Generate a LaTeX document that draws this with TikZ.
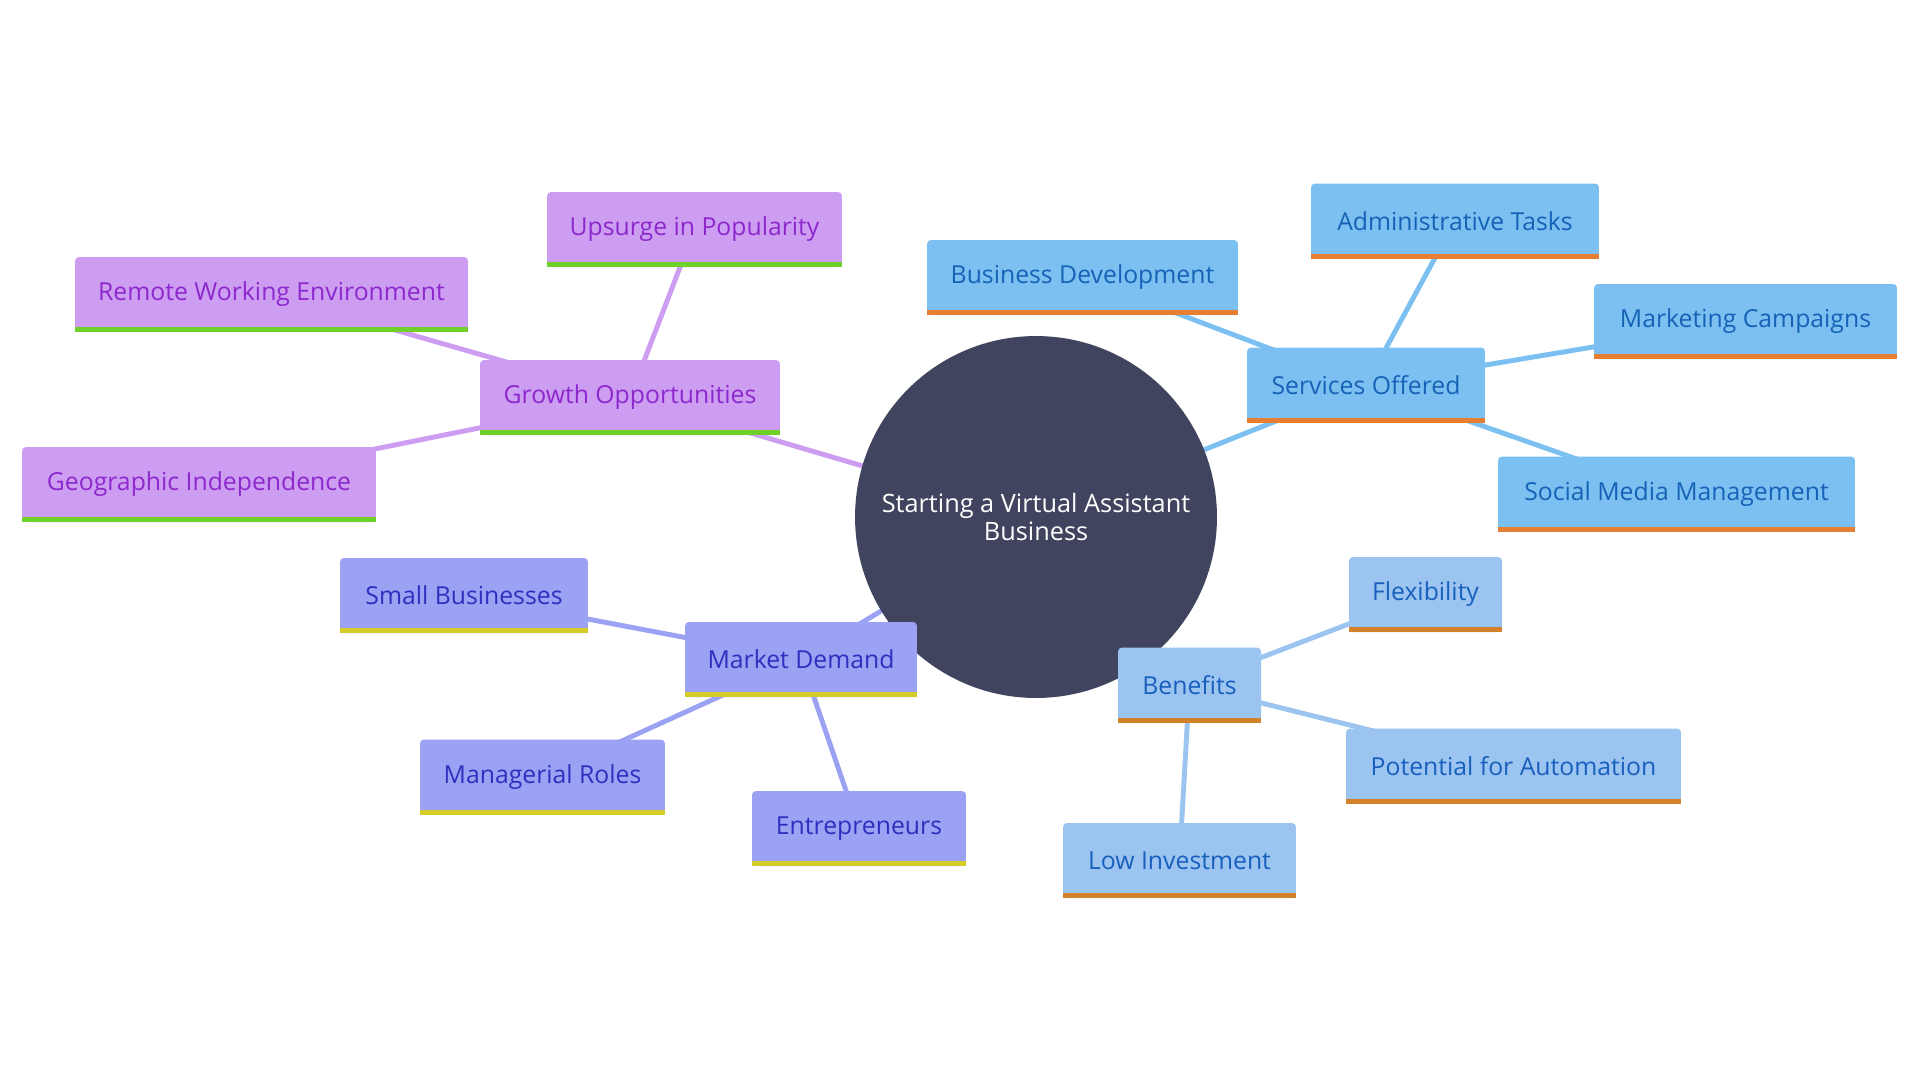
\documentclass[tikz,border=0pt]{standalone}
\usepackage{fontspec}
\setmainfont{Open Sans}
\usetikzlibrary{backgrounds}
\definecolor{rootfill}{RGB}{64,68,94}
\definecolor{growfill}{RGB}{205,157,242}
\definecolor{growtext}{RGB}{140,40,205}
\definecolor{growbar}{RGB}{110,208,40}
\definecolor{servfill}{RGB}{124,192,242}
\definecolor{servtext}{RGB}{21,98,182}
\definecolor{servbar}{RGB}{232,126,50}
\definecolor{markfill}{RGB}{155,161,243}
\definecolor{marktext}{RGB}{45,48,190}
\definecolor{markbar}{RGB}{214,204,40}
\definecolor{beneffill}{RGB}{155,196,240}
\definecolor{beneftext}{RGB}{25,95,190}
\definecolor{benefbar}{RGB}{212,130,42}
\tikzset{
  rootnode/.style={circle, fill=rootfill, text=white, inner sep=0, minimum size=7.24cm, align=center, font=\fontsize{14.4}{15.9}\selectfont},
  leafbox/.style={rounded corners=0.08cm, minimum height=1.5cm, inner sep=0, font=\fontsize{14.1}{16}\selectfont},
  growthbox/.style={leafbox, fill=growfill, text=growtext},
  servbox/.style={leafbox, fill=servfill, text=servtext},
  markbox/.style={leafbox, fill=markfill, text=marktext},
  benefbox/.style={leafbox, fill=beneffill, text=beneftext},
  growthline/.style={draw=growfill, line width=2.8pt},
  servline/.style={draw=servfill, line width=2.8pt},
  markline/.style={draw=markfill, line width=2.8pt},
  benefline/.style={draw=beneffill, line width=2.8pt},
}
\begin{document}
\begin{tikzpicture}[x=0.02cm, y=-0.02cm]
        \useasboundingbox (0,0) rectangle (1920,1080);
%%% Start Root
        \node[rootnode] (root) at (1036,517) {Starting a Virtual Assistant\\Business};
%%% End Root
%%% Start Growth Opportunities
        \node[growthbox, minimum width=6cm] (growth) at (630,397.5) {Growth Opportunities};
        \node[growthbox, minimum width=5.9cm] (upsurge) at (694.5,229.5) {Upsurge in Popularity};
        \node[growthbox, minimum width=7.86cm] (remote) at (271.5,294.5) {Remote Working Environment};
        \node[growthbox, minimum width=7.08cm] (geo) at (199,484.5) {Geographic Independence};
%%% End Growth Opportunities
%%% Start Services Offered
        \node[servbox, minimum width=4.76cm] (services) at (1366,385) {Services Offered};
        \node[servbox, minimum width=6.22cm] (busdev) at (1082.5,277.5) {Business Development};
        \node[servbox, minimum width=5.76cm] (admin) at (1455,221) {Administrative Tasks};
        \node[servbox, minimum width=6.06cm] (marketing) at (1745.5,321.5) {Marketing Campaigns};
        \node[servbox, minimum width=7.14cm] (social) at (1676.5,494) {Social Media Management};
%%% End Services Offered
%%% Start Market Demand
        \node[markbox, minimum width=4.64cm] (market) at (801,659.5) {Market Demand};
        \node[markbox, minimum width=4.96cm] (small) at (464,595.5) {Small Businesses};
        \node[markbox, minimum width=4.9cm] (managerial) at (542.5,777) {Managerial Roles};
        \node[markbox, minimum width=4.28cm] (entre) at (859,828.5) {Entrepreneurs};
%%% End Market Demand
%%% Start Benefits
        \node[benefbox, minimum width=2.86cm] (benefits) at (1189.5,685) {Benefits};
        \node[benefbox, minimum width=3.06cm] (flex) at (1425.5,594.5) {Flexibility};
        \node[benefbox, minimum width=6.7cm] (automation) at (1513.5,766) {Potential for Automation};
        \node[benefbox, minimum width=4.66cm] (lowinv) at (1179.5,860.5) {Low Investment};
%%% End Benefits
%%% Start bars below the boxes
        \foreach \n/\c in {growth/growbar, upsurge/growbar, remote/growbar, geo/growbar,
                services/servbar, busdev/servbar, admin/servbar, marketing/servbar, social/servbar,
                market/markbar, small/markbar, managerial/markbar, entre/markbar,
                benefits/benefbar, flex/benefbar, automation/benefbar, lowinv/benefbar}
          \fill[\c] (\n.south west) rectangle ([yshift=0.1cm]\n.south east);
%%% End bars below the boxes
%%% Start connectors
        \begin{scope}[on background layer]
          \fill[white] (0,0) rectangle (1920,1080);
          \foreach \a/\b/\s in {root/growth/growthline, growth/upsurge/growthline, growth/remote/growthline, growth/geo/growthline,
                  root/services/servline, services/busdev/servline, services/admin/servline, services/marketing/servline, services/social/servline,
                  root/market/markline, market/small/markline, market/managerial/markline, market/entre/markline,
                  root/benefits/benefline, benefits/flex/benefline, benefits/automation/benefline, benefits/lowinv/benefline}
            \draw[\s] (\a.center) -- (\b.center);
        \end{scope}
%%% End connectors
\end{tikzpicture}
\end{document}
